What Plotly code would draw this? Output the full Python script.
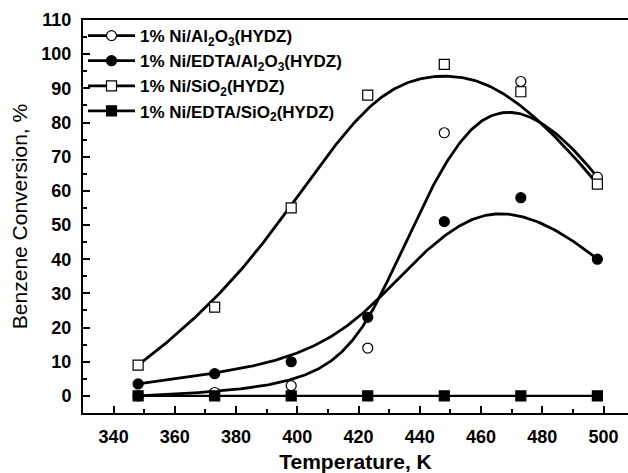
import numpy as np
import plotly.graph_objects as go

temperature = [348, 373, 398, 423, 448, 473, 498]
ni_al2o3 = [0, 1, 3, 14, 77, 92, 64]
ni_edta_al2o3 = [3.5, 6.5, 10, 23, 51, 58, 40]
ni_sio2 = [9, 26, 55, 88, 97, 89, 62]
ni_edta_sio2 = [0, 0, 0, 0, 0, 0, 0]

names = [
    "1% Ni/Al<sub>2</sub>O<sub>3</sub>(HYDZ)",
    "1% Ni/EDTA/Al<sub>2</sub>O<sub>3</sub>(HYDZ)",
    "1% Ni/SiO<sub>2</sub>(HYDZ)",
    "1% Ni/EDTA/SiO<sub>2</sub>(HYDZ)",
]


def bspline(cx, cy, k=3, n=300):
    """Clamped uniform B-spline using the data points as control points (Origin-style B-spline)."""
    cx = np.asarray(cx, float)
    cy = np.asarray(cy, float)
    m = len(cx)
    knots = np.array([0] * (k + 1) + list(range(1, m - k)) + [m - k] * (k + 1), float)
    t = np.linspace(0, m - k, n)
    t[-1] -= 1e-9

    def basis(i, p, tt):
        if p == 0:
            return ((knots[i] <= tt) & (tt < knots[i + 1])).astype(float)
        out = np.zeros_like(tt)
        d1 = knots[i + p] - knots[i]
        if d1 > 0:
            out += (tt - knots[i]) / d1 * basis(i, p - 1, tt)
        d2 = knots[i + p + 1] - knots[i + 1]
        if d2 > 0:
            out += (knots[i + p + 1] - tt) / d2 * basis(i + 1, p - 1, tt)
        return out

    B = np.array([basis(i, k, t) for i in range(m)])
    return cx @ B, cy @ B


fig = go.Figure()

smooth_series = [
    (ni_al2o3, "circle", "white"),
    (ni_edta_al2o3, "circle", "black"),
    (ni_sio2, "square", "white"),
]

# smoothed curves
for vals, sym, fill in smooth_series:
    xs, ys = bspline(temperature, vals)
    fig.add_trace(go.Scatter(x=xs, y=ys, mode="lines",
                             line=dict(color="black", width=2.8),
                             showlegend=False, hoverinfo="skip"))
fig.add_trace(go.Scatter(x=temperature, y=ni_edta_sio2, mode="lines",
                         line=dict(color="black", width=2.2),
                         showlegend=False, hoverinfo="skip"))

all_series = smooth_series + [(ni_edta_sio2, "square", "black")]
for idx, ((vals, sym, fill), name) in enumerate(zip(all_series, names)):
    mk = dict(symbol=sym, size=10, color=fill,
              line=dict(color="black", width=1.2))
    fig.add_trace(go.Scatter(x=temperature, y=vals, mode="markers", marker=mk,
                             showlegend=False))
    fig.add_trace(go.Scatter(x=[None], y=[None], mode="lines+markers", marker=mk,
                             line=dict(color="black", width=2.8), name=name))

tickfont = dict(family="Liberation Sans", size=18, color="black", weight="bold")

fig.update_xaxes(range=[330, 508], dtick=20, tick0=340,
                 showline=True, linecolor="black", linewidth=2, mirror=True,
                 ticks="inside", ticklen=7, tickwidth=1.5, tickcolor="black",
                 showgrid=False, zeroline=False, tickfont=tickfont,
                 ticklabelstandoff=6,
                 minor=dict(ticks="inside", ticklen=4, tickwidth=1.5, dtick=10, tick0=340, tickcolor="black"),
                 title=dict(text="Temperature, K", standoff=9,
                            font=dict(family="Liberation Sans", size=21, color="black", weight="bold")))
fig.update_yaxes(range=[-5, 110], dtick=10, tick0=0,
                 showline=True, linecolor="black", linewidth=2, mirror=False,
                 ticks="inside", ticklen=7, tickwidth=1.5, tickcolor="black",
                 showgrid=False, zeroline=False, tickfont=tickfont,
                 ticklabelstandoff=6,
                 minor=dict(ticks="inside", ticklen=4, tickwidth=1.5, dtick=5, tick0=0, tickcolor="black"),
                 title=dict(text="Benzene Conversion, %", standoff=8,
                            font=dict(family="Liberation Sans", size=21, color="black")))

fig.update_layout(
    width=628, height=473,
    margin=dict(l=83, r=0, t=20, b=60),
    plot_bgcolor="white", paper_bgcolor="white",
    legend=dict(x=0.0, y=1.005, xanchor="left", yanchor="top",
                bgcolor="rgba(0,0,0,0)", itemwidth=47,
                font=dict(family="Liberation Sans", size=17, color="black", weight="bold")),
)

fig.write_html("out.html", config={"displayModeBar": False},
               post_script="document.body.style.margin='0';")
